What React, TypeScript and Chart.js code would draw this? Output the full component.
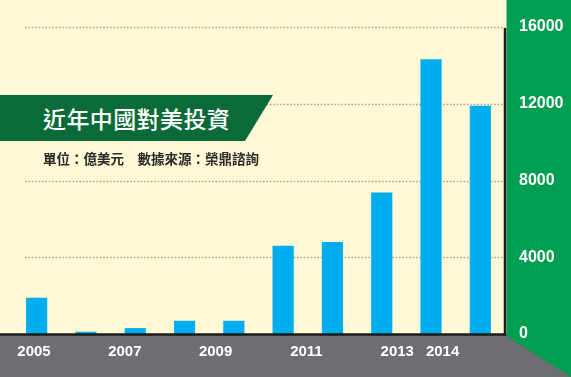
import React, { useEffect, useRef } from "react";
import { Chart, registerables } from "chart.js";

Chart.register(...registerables);

// ---- data ----
const YEARS = ["2005", "2006", "2007", "2008", "2009", "2010", "2011", "2012", "2013", "2014"];
const INVESTMENT = [1890, 120, 310, 690, 690, 4600, 4790, 7380, 14320, 11890];
const Y_TICKS = [0, 4000, 8000, 12000, 16000];
const X_TICK_YEARS = [2005, 2007, 2009, 2011, 2013, 2014];
const TITLE = "近年中國對美投資";
const SUBTITLE = "單位：億美元　數據來源：榮鼎諮詢";

// ---- styles ----
const CREAM = "#fff9d5";
const GREEN = "#009e50";
const DARK_GREEN = "#0a6b39";
const GRAY = "#6d6e71";
const BAR = "#00aeef";
const BLACK = "#1b1b1b";

const decor = {
  id: "decor",
  beforeDraw(chart: any) {
    const { ctx, width, height } = chart;
    const { right, bottom } = chart.chartArea;
    ctx.save();
    ctx.fillStyle = CREAM;
    ctx.fillRect(0, 0, width, height);
    ctx.fillStyle = GRAY;
    ctx.fillRect(0, bottom, width, height - bottom);
    ctx.fillStyle = GREEN;
    ctx.beginPath();
    ctx.moveTo(right + 1.5, 0);
    ctx.lineTo(width, 0);
    ctx.lineTo(width, height);
    ctx.lineTo(right + 1.5, bottom + 2);
    ctx.closePath();
    ctx.fill();
    const y = chart.scales.y;
    ctx.strokeStyle = "#a8a69a";
    ctx.lineWidth = 1.6;
    ctx.setLineDash([1.6, 1.8]);
    Y_TICKS.forEach((v) => {
      if (v === 0) return;
      const py = Math.round(y.getPixelForValue(v)) + 0.5;
      ctx.beginPath();
      ctx.moveTo(25, py);
      ctx.lineTo(right, py);
      ctx.stroke();
    });
    ctx.restore();
  },
  afterDatasetsDraw(chart: any) {
    const { ctx } = chart;
    const { right, top, bottom } = chart.chartArea;
    ctx.save();
    ctx.strokeStyle = BLACK;
    ctx.lineWidth = 2.5;
    ctx.beginPath();
    ctx.moveTo(right, top + 1);
    ctx.lineTo(right, bottom + 1.2);
    ctx.stroke();
    ctx.beginPath();
    ctx.moveTo(0, bottom + 0.5);
    ctx.lineTo(right + 1.2, bottom + 0.5);
    ctx.stroke();
    ctx.restore();
  },
};

export default function App() {
  const canvasRef = useRef<HTMLCanvasElement | null>(null);

  useEffect(() => {
    const canvas = canvasRef.current;
    if (!canvas) return;
    const chart = new Chart(canvas, {
      type: "bar",
      data: {
        labels: YEARS,
        datasets: [
          {
            data: INVESTMENT,
            backgroundColor: BAR,
            borderWidth: 0,
            categoryPercentage: 1,
            barPercentage: 0.43,
          },
        ],
      },
      plugins: [decor],
      options: {
        responsive: false,
        animation: false,
        devicePixelRatio: 1,
        layout: { padding: { left: 12, top: 27, right: 0, bottom: 0 } },
        plugins: {
          legend: { display: false },
          tooltip: { enabled: false },
          title: { display: false },
        },
        scales: {
          x: {
            type: "category",
            display: false,
            offset: true,
          },
          x2: {
            type: "linear",
            position: "bottom",
            offset: false,
            min: 2004.515,
            max: 2015.374,
            grid: { display: false, drawTicks: false, offset: false },
            border: { display: false },
            afterBuildTicks: (scale: any) => {
              scale.ticks = X_TICK_YEARS.map((v) => ({ value: v }));
            },
            afterFit: (scale: any) => {
              scale.height = 43;
            },
            ticks: {
              autoSkip: false,
              maxRotation: 0,
              padding: 9,
              color: "#ffffff",
              font: { family: "'Liberation Sans', Arial, sans-serif", size: 15, weight: "bold" },
              callback: (v: any) => String(v),
            },
          },
          y: {
            position: "right",
            min: 0,
            max: 16000,
            grid: { display: false, drawTicks: false },
            border: { display: false },
            afterFit: (scale: any) => {
              scale.width = 66;
            },
            afterBuildTicks: (scale: any) => {
              scale.ticks = Y_TICKS.map((v) => ({ value: v }));
            },
            ticks: {
              padding: 14,
              color: "#ffffff",
              font: { family: "'Liberation Sans', Arial, sans-serif", size: 16, weight: "bold" },
              callback: (v: any) => String(v),
            },
          },
        },
      } as any,
    });
    return () => chart.destroy();
  }, []);

  return (
    <div
      style={{
        position: "absolute",
        left: 0,
        top: 0,
        width: 571,
        height: 377,
        background: CREAM,
        overflow: "hidden",
      }}
    >
      <canvas ref={canvasRef} width={571} height={377} style={{ display: "block" }} />
      <div
        style={{
          position: "absolute",
          left: 0,
          top: 95,
          width: 273,
          height: 46,
          background: DARK_GREEN,
          clipPath: "polygon(0 0, 273px 0, 245px 46px, 0 46px)",
        }}
      >
        <div
          style={{
            position: "absolute",
            left: 43,
            top: 0,
            height: 46,
            lineHeight: "46px",
            fontFamily: "'Noto Sans CJK TC', sans-serif",
            fontSize: 23,
            fontWeight: 500,
            letterSpacing: 0.4,
            color: "#ffffff",
            whiteSpace: "nowrap",
          }}
        >
          {TITLE}
        </div>
      </div>
      <div
        style={{
          position: "absolute",
          left: 43,
          top: 148,
          height: 20,
          lineHeight: "20px",
          fontFamily: "'Noto Sans CJK TC', sans-serif",
          fontSize: 13.5,
          fontWeight: 700,
          color: "#2a2a2a",
          whiteSpace: "nowrap",
        }}
      >
        {SUBTITLE}
      </div>
    </div>
  );
}
